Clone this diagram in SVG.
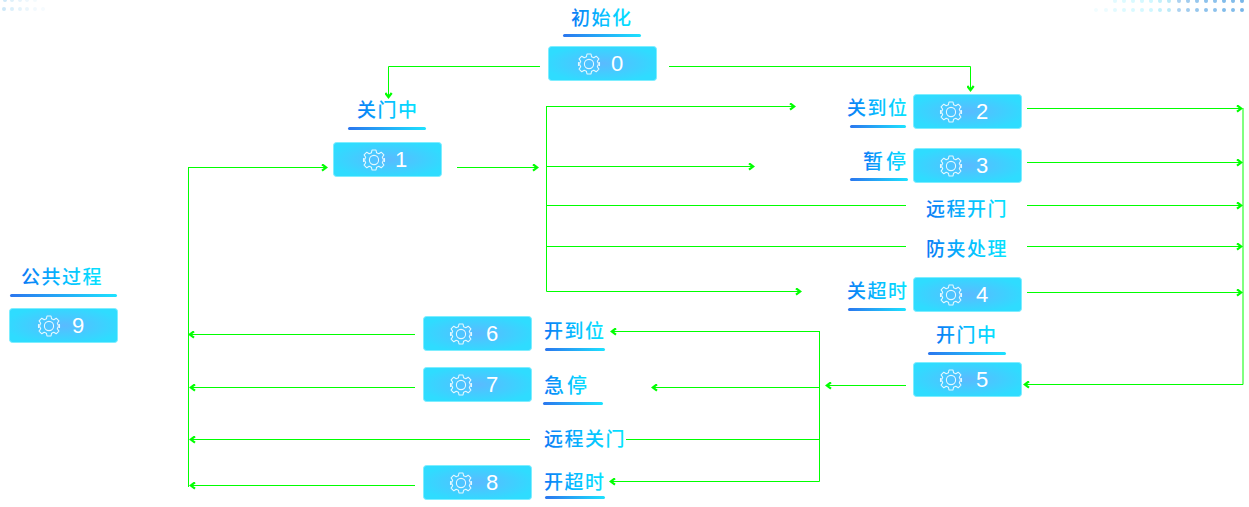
<svg xmlns="http://www.w3.org/2000/svg" width="1249" height="507" viewBox="0 0 1249 507">
<style>
.box{fill:url(#boxFill);stroke:#7deeff;stroke-width:1}
.num{font:22px "Liberation Sans",Arial,sans-serif;fill:#fff;text-anchor:middle}
.lbl{font:19px "Noto Sans CJK SC","Noto Sans",sans-serif;letter-spacing:1.5px;fill:url(#txt);font-weight:500}
.big{font-size:20px;letter-spacing:3px}
.ul{fill:url(#bar)}
.gear{fill:none;stroke:#e4f8ff;stroke-width:1.1}
.conn path{fill:none;stroke:#0f0;stroke-width:1}
.arr{marker-end:url(#a)}
</style>
<defs>
<radialGradient id="boxFill" cx="50%" cy="50%" r="55%"><stop offset="0" stop-color="#5abaff"/><stop offset="1" stop-color="#2fdcff"/></radialGradient>
<linearGradient id="txt" x1="0" x2="1" y1="0" y2="0"><stop offset="0" stop-color="#0a78f5"/><stop offset=".5" stop-color="#06bcff"/><stop offset="1" stop-color="#06e4ff"/></linearGradient>
<linearGradient id="bar" x1="0" x2="1" y1="0" y2="0"><stop offset="0" stop-color="#2b76ee"/><stop offset="1" stop-color="#1de2ff"/></linearGradient>
<marker id="a" viewBox="0 0 8 8" refX="7" refY="4" markerWidth="8" markerHeight="8" markerUnits="userSpaceOnUse" orient="auto"><path d="M2 .8L6.2 4L2 7.200" fill="none" stroke="#0f0" stroke-width="2.200"/></marker>
<g id="gear"><path class="gear" d="M-2 -10H2L2.6 -7.2L4.8 -6.2L7.2 -7.8L9.9 -5.1L8.3 -2.7L9.2 -.6L10.500 -1.500V1.500L9.2 .6L8.3 2.7L9.9 5.1L7.2 7.8L4.8 6.2L2.6 7.2L2 10H-2L-2.6 7.2L-4.8 6.2L-7.2 7.8L-9.9 5.1L-8.3 2.7L-9.2 .6L-10.500 1.500V-1.500L-9.2 -.6L-8.3 -2.7L-9.9 -5.1L-7.2 -7.8L-4.8 -6.2L-2.6 -7.2Z" stroke-linejoin="round"/><circle class="gear" r="4.6"/></g>
<rect id="card" class="box" x=".5" y=".5" width="108" height="34" rx="3"/>
</defs>
<rect width="1249" height="507" fill="#fff"/>
<g id="dots" fill="#2f8fdc">
<g fill="#58b4e8">
<circle cx="5" cy="0" r="2" opacity=".3"/><circle cx="12" cy="0" r="2" opacity=".2"/><circle cx="20" cy="0" r="2" opacity=".15"/><circle cx="27" cy="0" r="2" opacity=".1"/><circle cx="35" cy="0" r="2" opacity=".07"/>
<circle cx="4" cy="9" r="2" opacity=".3"/><circle cx="12" cy="9" r="2" opacity=".22"/><circle cx="20" cy="9" r="2" opacity=".16"/><circle cx="27" cy="9" r="2" opacity=".12"/><circle cx="35" cy="9" r="2" opacity=".08"/><circle cx="43" cy="9" r="2" opacity=".05"/>
</g>
<g>
<circle cx="1115" cy="1" r="2" fill="#9ff0ff" opacity=".3"/><circle cx="1124" cy="1" r="2" fill="#9ff0ff" opacity=".35"/><circle cx="1133" cy="1" r="2" fill="#9ff0ff" opacity=".4"/><circle cx="1142" cy="1" r="2" fill="#9ff0ff" opacity=".45"/><circle cx="1151" cy="1" r="2" fill="#9ff0ff" opacity=".5"/><circle cx="1160" cy="1" r="2" fill="#8fe4f8" opacity=".55"/><circle cx="1169" cy="1" r="2" fill="#8fdcf4" opacity=".6"/><circle cx="1179" cy="1" r="2" opacity=".4"/><circle cx="1188" cy="1" r="2" opacity=".45"/><circle cx="1197" cy="1" r="2" opacity=".5"/><circle cx="1206" cy="1" r="2" opacity=".55"/><circle cx="1215" cy="1" r="2" opacity=".55"/><circle cx="1224" cy="1" r="2" opacity=".6"/><circle cx="1233" cy="1" r="2" opacity=".6"/><circle cx="1242" cy="1" r="2" opacity=".65"/>
<circle cx="1096" cy="10" r="2" fill="#9ff0ff" opacity=".15"/><circle cx="1106" cy="10" r="2" fill="#9ff0ff" opacity=".2"/><circle cx="1115" cy="10" r="2" fill="#9ff0ff" opacity=".3"/><circle cx="1124" cy="10" r="2" fill="#9ff0ff" opacity=".35"/><circle cx="1133" cy="10" r="2" fill="#9ff0ff" opacity=".4"/><circle cx="1142" cy="10" r="2" fill="#9ff0ff" opacity=".45"/><circle cx="1151" cy="10" r="2" fill="#9ff0ff" opacity=".5"/><circle cx="1160" cy="10" r="2" fill="#8fe4f8" opacity=".55"/><circle cx="1169" cy="10" r="2" fill="#8fdcf4" opacity=".6"/><circle cx="1179" cy="10" r="2" opacity=".4"/><circle cx="1188" cy="10" r="2" opacity=".45"/><circle cx="1197" cy="10" r="2" opacity=".5"/><circle cx="1206" cy="10" r="2" opacity=".55"/><circle cx="1215" cy="10" r="2" opacity=".55"/><circle cx="1224" cy="10" r="2" opacity=".6"/><circle cx="1233" cy="10" r="2" opacity=".6"/><circle cx="1242" cy="10" r="2" opacity=".65"/>
</g>
</g>
<g id="connectors" class="conn">
<path class="arr" d="M540 66.500H388.500V98"/>
<path class="arr" d="M669 66.500H970.500V91"/>
<path class="arr" d="M457 167.500H538"/>
<path d="M546.500 106V291.500"/>
<path class="arr" d="M546.500 106.500H795"/>
<path class="arr" d="M546.500 291.500H801"/>
<path class="arr" d="M546.500 166.500H754"/>
<path d="M546.500 205.500H906"/>
<path d="M546.500 246.500H906"/>
<path class="arr" d="M1027 108.500H1242"/>
<path class="arr" d="M1027 162.500H1242"/>
<path class="arr" d="M1027 205.500H1242"/>
<path class="arr" d="M1027 246.500H1242"/>
<path class="arr" d="M1027 292.500H1242"/>
<path class="arr" d="M1243 108V384.500H1024"/>
<path class="arr" d="M906 385.500H826"/>
<path class="arr" d="M819.500 331.500H611"/>
<path d="M819.500 331V481.500"/>
<path class="arr" d="M819.500 387.500H652"/>
<path d="M819.500 439.500H626"/>
<path class="arr" d="M819.500 481.500H610"/>
<path class="arr" d="M415 334.500H189"/>
<path class="arr" d="M415 387.500H190"/>
<path class="arr" d="M530 439.500H190"/>
<path class="arr" d="M415 485.500H190"/>
<path d="M188.500 167V487"/>
<path class="arr" d="M188.500 167.500H327"/>
</g>
<g id="node0"><text class="lbl" x="571" y="25">初始化</text><rect class="ul" x="563" y="34" width="78" height="3" rx="1.500"/><use href="#card" x="548" y="46"/><use href="#gear" x="589" y="64"/><text class="num" x="617" y="71">0</text></g>
<g id="node1"><text class="lbl" x="357" y="117">关门中</text><rect class="ul" x="348" y="127" width="78" height="3" rx="1.500"/><use href="#card" x="333" y="142"/><use href="#gear" x="374" y="160"/><text class="num" x="401" y="167">1</text></g>
<g id="node2"><text class="lbl" x="847" y="115">关到位</text><rect class="ul" x="850" y="125" width="56" height="3" rx="1.500"/><use href="#card" x="913" y="94"/><use href="#gear" x="951" y="112"/><text class="num" x="982" y="119">2</text></g>
<g id="node3"><text class="lbl big" x="863" y="169">暂停</text><rect class="ul" x="850" y="178" width="58" height="3" rx="1.500"/><use href="#card" x="913" y="148"/><use href="#gear" x="951" y="166"/><text class="num" x="982" y="173">3</text></g>
<g id="node-remote-open"><text class="lbl" x="926" y="216">远程开门</text></g>
<g id="node-anti-pinch"><text class="lbl" x="926" y="256">防夹处理</text></g>
<g id="node4"><text class="lbl" x="847" y="298">关超时</text><rect class="ul" x="848" y="308" width="58" height="3" rx="1.500"/><use href="#card" x="913" y="277"/><use href="#gear" x="951" y="295"/><text class="num" x="982" y="302">4</text></g>
<g id="node5"><text class="lbl" x="936" y="342">开门中</text><rect class="ul" x="928" y="352" width="78" height="3" rx="1.500"/><use href="#card" x="913" y="362"/><use href="#gear" x="951" y="380"/><text class="num" x="982" y="387">5</text></g>
<g id="node6"><use href="#card" x="423" y="316"/><use href="#gear" x="461" y="334"/><text class="num" x="492" y="341">6</text><text class="lbl" x="544" y="338">开到位</text><rect class="ul" x="545" y="348" width="60" height="3" rx="1.500"/></g>
<g id="node7"><use href="#card" x="423" y="367"/><use href="#gear" x="461" y="385"/><text class="num" x="492" y="392">7</text><text class="lbl big" x="544" y="393">急停</text><rect class="ul" x="543" y="402" width="60" height="3" rx="1.500"/></g>
<g id="node-remote-close"><text class="lbl" x="544" y="446">远程关门</text></g>
<g id="node8"><use href="#card" x="423" y="465"/><use href="#gear" x="461" y="483"/><text class="num" x="492" y="490">8</text><text class="lbl" x="544" y="489">开超时</text><rect class="ul" x="545" y="496" width="60" height="3" rx="1.500"/></g>
<g id="node9"><text class="lbl" x="21" y="284">公共过程</text><rect class="ul" x="10" y="294" width="107" height="3" rx="1.500"/><use href="#card" x="9" y="308"/><use href="#gear" x="49" y="326"/><text class="num" x="78" y="333">9</text></g>
</svg>
